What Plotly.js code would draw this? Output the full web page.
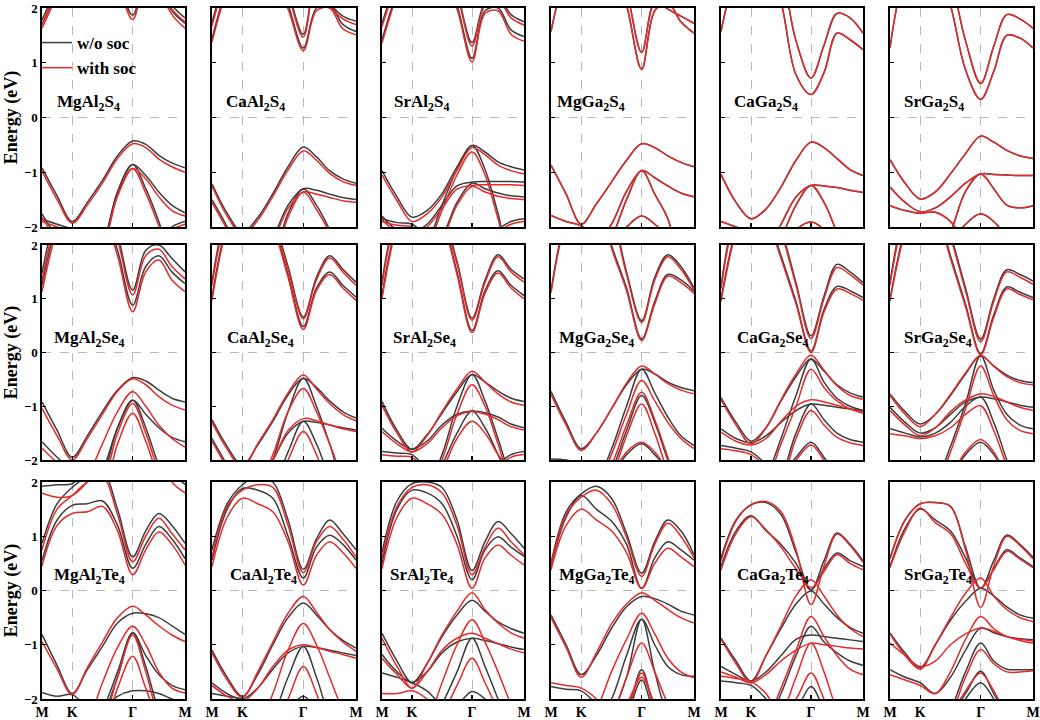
<!DOCTYPE html>
<html><head><meta charset="utf-8">
<script src="https://cdn.plot.ly/plotly-3.0.1.min.js"></script>
<style>html,body{margin:0;padding:0;background:#fff}#chart{width:1040px;height:720px}</style>
</head><body><div id="chart"></div>
<script>
// k-path sample positions along M-K-Γ-M (hexagonal path lengths)
const kPath = [0, 0.1667, 0.3333, 0.5, 0.6667, 0.8333, 1.0, 1.1443, 1.2887, 1.4330, 1.5774];
const kTickVals = [0, 0.3333, 1.0, 1.5774];
const kTickText = ['M', 'K', 'Γ', 'M'];
const energyTicks = [-2, -1, 0, 1, 2];
const fermiLevel = 0;

const compoundLabels = [
  'MgAl<sub>2</sub>S<sub>4</sub>', 'CaAl<sub>2</sub>S<sub>4</sub>', 'SrAl<sub>2</sub>S<sub>4</sub>',
  'MgGa<sub>2</sub>S<sub>4</sub>', 'CaGa<sub>2</sub>S<sub>4</sub>', 'SrGa<sub>2</sub>S<sub>4</sub>',
  'MgAl<sub>2</sub>Se<sub>4</sub>', 'CaAl<sub>2</sub>Se<sub>4</sub>', 'SrAl<sub>2</sub>Se<sub>4</sub>',
  'MgGa<sub>2</sub>Se<sub>4</sub>', 'CaGa<sub>2</sub>Se<sub>4</sub>', 'SrGa<sub>2</sub>Se<sub>4</sub>',
  'MgAl<sub>2</sub>Te<sub>4</sub>', 'CaAl<sub>2</sub>Te<sub>4</sub>', 'SrAl<sub>2</sub>Te<sub>4</sub>',
  'MgGa<sub>2</sub>Te<sub>4</sub>', 'CaGa<sub>2</sub>Te<sub>4</sub>', 'SrGa<sub>2</sub>Te<sub>4</sub>'
];

// ---------- band energies (eV) at kPath ----------
const MgAl2S4_nosoc = [
  [1.78, 2.4, 3.0, 3.0, 2.9, 2.5, 1.87, 2.5, 2.5, 2.05, 1.82],
  [1.7, 2.3, 3.0, 3.0, 3.0, 2.8, 2.6, 2.8, 2.4, 1.95, 1.72],
  [-0.92, -1.43, -1.9, -1.55, -1.15, -0.7, -0.43, -0.49, -0.69, -0.83, -0.92],
  [-1.76, -2.2, -2.6, -2.6, -2.3, -1.36, -0.86, -1.06, -1.36, -1.6, -1.74],
  [-2.6, -2.6, -2.6, -2.6, -2.3, -1.36, -0.86, -1.3, -1.9, -2.6, -2.6],
  [-1.86, -1.95, -2.05, -2.3, -2.6, -2.6, -2.6, -2.6, -2.3, -2.0, -1.9]
];
const MgAl2S4_soc = [
  [1.7, 2.35, 3.0, 3.0, 2.9, 2.45, 1.79, 2.45, 2.45, 1.98, 1.75],
  [1.63, 2.25, 3.0, 3.0, 3.0, 2.8, 2.6, 2.8, 2.35, 1.88, 1.63],
  [-0.98, -1.5, -1.93, -1.6, -1.2, -0.75, -0.48, -0.55, -0.76, -0.9, -1.0],
  [-1.82, -2.25, -2.6, -2.6, -2.35, -1.43, -0.93, -1.12, -1.45, -1.7, -1.8],
  [-2.6, -2.6, -2.6, -2.6, -2.35, -1.43, -0.93, -1.38, -1.98, -2.6, -2.6],
  [-1.9, -2.0, -2.1, -2.35, -2.6, -2.6, -2.6, -2.6, -2.35, -2.05, -1.95]
];
const CaAl2S4_nosoc = [
  [1.73, 2.6, 3.0, 3.0, 3.0, 2.3, 1.52, 2.6, 2.1, 1.85, 1.76],
  [1.44, 2.4, 3.0, 3.0, 2.6, 2.05, 1.27, 2.0, 2.05, 1.7, 1.57],
  [-1.21, -1.75, -2.1, -1.83, -1.39, -0.9, -0.54, -0.72, -0.97, -1.12, -1.2],
  [-1.5, -2.0, -2.6, -2.6, -2.2, -1.6, -1.3, -1.33, -1.4, -1.46, -1.5],
  [-2.6, -2.6, -2.6, -2.6, -2.5, -1.75, -1.3, -1.6, -2.05, -2.6, -2.6]
];
const CaAl2S4_soc = [
  [1.67, 2.55, 3.0, 3.0, 3.0, 2.25, 1.47, 2.55, 2.05, 1.8, 1.7],
  [1.38, 2.35, 3.0, 3.0, 2.55, 1.98, 1.22, 1.95, 2.0, 1.62, 1.51],
  [-1.25, -1.8, -2.15, -1.88, -1.44, -0.96, -0.61, -0.78, -1.02, -1.17, -1.24],
  [-1.55, -2.05, -2.6, -2.6, -2.25, -1.66, -1.36, -1.4, -1.46, -1.52, -1.55],
  [-2.6, -2.6, -2.6, -2.6, -2.55, -1.82, -1.36, -1.68, -2.1, -2.6, -2.6]
];
const SrAl2S4_nosoc = [
  [1.72, 2.5, 3.0, 3.0, 3.0, 2.3, 1.37, 2.1, 2.2, 1.88, 1.75],
  [1.42, 2.3, 3.0, 3.0, 2.7, 2.05, 1.08, 1.95, 2.0, 1.6, 1.48],
  [-0.97, -1.45, -1.82, -1.7, -1.39, -0.9, -0.51, -0.63, -0.81, -0.9, -0.96],
  [-2.6, -2.6, -2.6, -2.3, -1.6, -0.95, -0.51, -0.95, -1.75, -2.6, -2.6],
  [-1.8, -2.05, -2.1, -1.95, -1.6, -1.25, -1.18, -1.17, -1.17, -1.17, -1.18],
  [-2.6, -2.6, -2.6, -2.6, -2.2, -1.55, -1.2, -1.3, -1.38, -1.43, -1.45],
  [-1.85, -1.92, -1.95, -2.2, -2.6, -2.6, -2.6, -2.4, -2.05, -1.9, -1.85]
];
const SrAl2S4_soc = [
  [1.66, 2.45, 3.0, 3.0, 2.9, 2.25, 1.31, 2.05, 2.15, 1.82, 1.69],
  [1.36, 2.25, 3.0, 3.0, 2.6, 1.98, 1.02, 1.9, 1.95, 1.52, 1.39],
  [-1.05, -1.52, -1.9, -1.76, -1.45, -0.96, -0.55, -0.68, -0.87, -0.97, -1.03],
  [-2.6, -2.6, -2.6, -2.35, -1.7, -1.05, -0.63, -1.05, -1.85, -2.6, -2.6],
  [-1.86, -2.1, -2.15, -2.0, -1.66, -1.31, -1.24, -1.23, -1.23, -1.23, -1.24],
  [-2.6, -2.6, -2.6, -2.6, -2.25, -1.6, -1.26, -1.36, -1.44, -1.48, -1.5],
  [-1.9, -1.97, -2.0, -2.25, -2.6, -2.6, -2.6, -2.45, -2.1, -1.95, -1.9]
];
const MgGa2S4_soc = [
  [1.57, 2.6, 3.0, 3.0, 2.8, 2.05, 0.88, 1.95, 2.1, 1.75, 1.54],
  [2.6, 3.0, 3.0, 3.0, 3.0, 2.3, 1.19, 2.1, 1.98, 1.85, 1.72],
  [-0.87, -1.4, -1.95, -1.58, -1.18, -0.78, -0.48, -0.55, -0.7, -0.82, -0.9],
  [-2.6, -2.6, -2.6, -2.3, -1.95, -1.35, -0.97, -1.1, -1.25, -1.38, -1.45],
  [-2.6, -2.6, -2.6, -2.6, -2.2, -1.5, -0.97, -1.4, -1.85, -2.6, -2.6],
  [-2.6, -2.6, -2.6, -2.6, -2.3, -2.0, -1.8, -1.95, -2.2, -2.6, -2.6],
  [-1.79, -1.9, -1.98, -2.2, -2.6, -2.6, -2.6, -2.6, -2.6, -2.6, -2.6]
];
const MgGa2S4_nosoc = MgGa2S4_soc;
const CaGa2S4_soc = [
  [1.57, 2.6, 3.0, 2.8, 2.1, 0.78, 0.42, 0.82, 1.54, 1.42, 1.24],
  [2.5, 3.0, 3.0, 3.0, 2.6, 1.4, 0.72, 1.32, 1.9, 1.82, 1.54],
  [-1.04, -1.55, -1.85, -1.67, -1.27, -0.78, -0.45, -0.55, -0.75, -0.95, -1.06],
  [-2.6, -2.6, -2.6, -2.4, -1.95, -1.45, -1.24, -1.25, -1.28, -1.33, -1.37],
  [-2.6, -2.6, -2.6, -2.6, -2.2, -1.6, -1.24, -1.55, -2.1, -2.6, -2.6],
  [-2.6, -2.6, -2.6, -2.6, -2.4, -2.05, -1.91, -2.05, -2.4, -2.6, -2.6],
  [-1.9, -2.0, -2.1, -2.3, -2.6, -2.6, -2.6, -2.6, -2.6, -2.6, -2.6]
];
const CaGa2S4_nosoc = CaGa2S4_soc;
const SrGa2S4_soc = [
  [1.27, 2.6, 3.0, 2.8, 2.05, 0.87, 0.33, 0.84, 1.5, 1.45, 1.27],
  [2.5, 3.0, 3.0, 3.0, 2.5, 1.4, 0.62, 1.3, 1.88, 1.8, 1.63],
  [-0.77, -1.2, -1.49, -1.36, -1.03, -0.66, -0.34, -0.45, -0.6, -0.7, -0.75],
  [-1.27, -1.55, -1.72, -1.65, -1.45, -1.2, -1.03, -1.04, -1.05, -1.06, -1.06],
  [-2.6, -2.6, -2.6, -2.6, -2.1, -1.35, -1.03, -1.3, -1.6, -1.65, -1.61],
  [-1.61, -1.7, -1.75, -1.73, -1.9, -2.3, -2.6, -2.6, -2.6, -2.6, -2.6],
  [-2.6, -2.6, -2.6, -2.6, -2.3, -1.95, -1.76, -1.9, -2.2, -2.6, -2.6]
];
const SrGa2S4_nosoc = SrGa2S4_soc;

const MgAl2Se4_nosoc = [
  [1.47, 2.6, 3.0, 3.0, 3.0, 2.2, 1.16, 1.9, 2.0, 1.75, 1.5],
  [1.25, 2.4, 3.0, 3.0, 2.7, 1.9, 0.88, 1.6, 1.8, 1.5, 1.28],
  [-0.92, -1.45, -1.95, -1.55, -1.1, -0.7, -0.47, -0.53, -0.7, -0.85, -0.92],
  [-2.6, -2.6, -2.6, -2.6, -2.2, -1.4, -0.89, -1.15, -1.4, -1.58, -1.66],
  [-2.6, -2.6, -2.6, -2.6, -2.3, -1.4, -0.89, -1.4, -2.1, -2.6, -2.6],
  [-1.66, -1.95, -2.2, -2.6, -2.6, -2.6, -2.6, -2.6, -2.6, -2.6, -2.6]
];
const MgAl2Se4_soc = [
  [1.34, 2.5, 3.0, 3.0, 2.9, 2.1, 1.07, 1.8, 1.92, 1.6, 1.37],
  [1.13, 2.3, 3.0, 2.9, 2.6, 1.8, 0.76, 1.5, 1.72, 1.35, 1.13],
  [-1.04, -1.55, -2.0, -1.6, -1.15, -0.72, -0.49, -0.6, -0.82, -0.98, -1.07],
  [-2.6, -2.6, -2.6, -2.3, -1.7, -1.1, -0.73, -1.0, -1.35, -1.6, -1.76],
  [-2.6, -2.6, -2.6, -2.6, -2.4, -1.5, -0.95, -1.5, -2.2, -2.6, -2.6],
  [-2.6, -2.6, -2.6, -2.6, -2.6, -1.7, -1.13, -1.65, -2.3, -2.6, -2.6],
  [-1.78, -2.05, -2.3, -2.6, -2.6, -2.6, -2.6, -2.6, -2.6, -2.6, -2.6]
];
const CaAl2Se4_nosoc = [
  [1.31, 2.6, 3.0, 3.0, 2.5, 1.6, 0.66, 1.4, 1.8, 1.55, 1.31],
  [1.03, 2.4, 3.0, 3.0, 2.4, 1.45, 0.48, 1.2, 1.5, 1.25, 1.03],
  [-1.25, -1.75, -2.1, -1.72, -1.28, -0.79, -0.48, -0.65, -0.9, -1.1, -1.22],
  [-1.6, -2.1, -2.6, -2.4, -2.0, -1.5, -1.28, -1.3, -1.35, -1.4, -1.44],
  [-2.6, -2.6, -2.6, -2.6, -2.5, -1.85, -1.28, -1.7, -2.3, -2.6, -2.6],
  [-2.6, -2.6, -2.6, -2.6, -2.0, -1.1, -0.48, -1.0, -1.7, -2.4, -2.6]
];
const CaAl2Se4_soc = [
  [1.25, 2.55, 3.0, 3.0, 2.45, 1.55, 0.63, 1.35, 1.76, 1.5, 1.25],
  [0.97, 2.35, 3.0, 2.9, 2.35, 1.4, 0.43, 1.15, 1.45, 1.2, 0.97],
  [-1.3, -1.8, -2.15, -1.7, -1.25, -0.75, -0.42, -0.68, -0.95, -1.15, -1.27],
  [-1.65, -2.15, -2.6, -2.4, -2.0, -1.45, -1.23, -1.27, -1.35, -1.42, -1.47],
  [-2.6, -2.6, -2.6, -2.6, -2.6, -2.0, -1.47, -1.9, -2.5, -2.6, -2.6],
  [-2.6, -2.6, -2.6, -2.5, -1.9, -1.1, -0.67, -1.1, -1.7, -2.3, -2.6]
];
const SrAl2Se4_nosoc = [
  [1.31, 2.6, 3.0, 3.0, 2.6, 1.7, 0.64, 1.35, 1.82, 1.55, 1.37],
  [1.06, 2.4, 3.0, 3.0, 2.5, 1.5, 0.41, 1.15, 1.52, 1.25, 1.06],
  [-0.91, -1.45, -1.8, -1.53, -1.13, -0.73, -0.41, -0.55, -0.72, -0.85, -0.91],
  [-2.6, -2.6, -2.6, -2.5, -1.9, -1.0, -0.41, -0.9, -1.6, -2.3, -2.6],
  [-1.41, -1.65, -1.8, -1.65, -1.35, -1.15, -1.09, -1.12, -1.2, -1.33, -1.4],
  [-2.6, -2.6, -2.6, -2.6, -2.1, -1.5, -1.09, -1.4, -1.9, -2.4, -2.6],
  [-1.84, -1.87, -1.9, -2.2, -2.6, -2.6, -2.6, -2.5, -2.1, -1.9, -1.84]
];
const SrAl2Se4_soc = [
  [1.25, 2.55, 3.0, 3.0, 2.55, 1.65, 0.6, 1.3, 1.78, 1.5, 1.31],
  [1.0, 2.35, 3.0, 2.9, 2.45, 1.45, 0.37, 1.1, 1.48, 1.2, 1.0],
  [-0.98, -1.5, -1.85, -1.55, -1.1, -0.68, -0.35, -0.55, -0.77, -0.92, -0.98],
  [-2.6, -2.6, -2.6, -2.6, -2.0, -1.15, -0.6, -1.0, -1.7, -2.4, -2.6],
  [-1.47, -1.7, -1.85, -1.7, -1.4, -1.18, -1.1, -1.15, -1.25, -1.38, -1.44],
  [-2.6, -2.6, -2.6, -2.6, -2.2, -1.6, -1.28, -1.5, -1.9, -2.2, -2.6],
  [-1.9, -1.93, -1.95, -2.25, -2.6, -2.6, -2.6, -2.55, -2.15, -1.95, -1.9]
];
const MgGa2Se4_nosoc = [
  [1.14, 2.5, 3.0, 3.0, 2.0, 1.2, 0.25, 0.95, 1.45, 1.35, 1.14],
  [2.6, 3.0, 3.0, 3.0, 2.6, 1.5, 0.59, 1.4, 1.82, 1.6, 1.2],
  [-0.72, -1.3, -1.79, -1.5, -1.05, -0.6, -0.31, -0.4, -0.55, -0.65, -0.71],
  [-2.6, -2.6, -2.6, -2.4, -1.8, -1.0, -0.31, -0.75, -1.2, -1.55, -1.73],
  [-2.6, -2.6, -2.6, -2.6, -2.2, -1.45, -0.8, -1.3, -2.0, -2.6, -2.6],
  [-2.6, -2.6, -2.6, -2.6, -2.3, -1.9, -1.7, -1.9, -2.2, -2.6, -2.6],
  [-1.98, -2.0, -2.1, -2.4, -2.6, -2.6, -2.6, -2.6, -2.6, -2.6, -2.6]
];
const MgGa2Se4_soc = [
  [1.11, 2.45, 3.0, 3.0, 1.95, 1.15, 0.22, 0.9, 1.42, 1.3, 1.1],
  [2.6, 3.0, 3.0, 3.0, 2.55, 1.45, 0.56, 1.35, 1.78, 1.55, 1.16],
  [-0.78, -1.35, -1.82, -1.5, -1.05, -0.57, -0.25, -0.4, -0.58, -0.7, -0.77],
  [-2.6, -2.6, -2.6, -2.5, -1.9, -1.15, -0.52, -0.9, -1.3, -1.6, -1.79],
  [-2.6, -2.6, -2.6, -2.6, -2.1, -1.35, -0.74, -1.25, -1.95, -2.6, -2.6],
  [-2.6, -2.6, -2.6, -2.6, -2.3, -1.55, -0.96, -1.5, -2.2, -2.6, -2.6],
  [-2.6, -2.6, -2.6, -2.6, -2.3, -1.85, -1.67, -1.85, -2.2, -2.6, -2.6]
];
const CaGa2Se4_nosoc = [
  [0.99, 2.3, 3.0, 2.6, 1.8, 0.95, 0.03, 0.8, 1.23, 1.15, 1.02],
  [1.23, 2.6, 3.0, 3.0, 2.3, 1.3, 0.31, 1.05, 1.64, 1.5, 1.3],
  [-0.84, -1.3, -1.65, -1.4, -0.9, -0.45, -0.12, -0.35, -0.6, -0.75, -0.83],
  [-2.6, -2.6, -2.6, -2.3, -1.6, -0.8, -0.12, -0.55, -0.85, -1.0, -1.08],
  [-1.42, -1.6, -1.68, -1.55, -1.3, -1.08, -0.96, -0.98, -1.02, -1.05, -1.08],
  [-2.6, -2.6, -2.6, -2.6, -2.3, -1.5, -0.96, -1.25, -1.5, -1.62, -1.67],
  [-1.73, -1.78, -1.85, -2.1, -2.6, -2.6, -2.6, -2.6, -2.6, -2.6, -2.6],
  [-2.6, -2.6, -2.6, -2.6, -2.3, -1.95, -1.67, -1.95, -2.3, -2.6, -2.6]
];
const CaGa2Se4_soc = [
  [0.95, 2.25, 3.0, 2.55, 1.75, 0.9, 0.0, 0.75, 1.18, 1.1, 0.97],
  [1.18, 2.55, 3.0, 3.0, 2.25, 1.25, 0.26, 1.0, 1.58, 1.45, 1.25],
  [-0.88, -1.35, -1.7, -1.4, -0.88, -0.4, -0.05, -0.33, -0.62, -0.8, -0.87],
  [-2.6, -2.6, -2.6, -2.4, -1.7, -1.0, -0.31, -0.65, -0.9, -1.05, -1.13],
  [-1.48, -1.65, -1.72, -1.6, -1.28, -1.0, -0.88, -0.92, -0.98, -1.05, -1.1],
  [-2.6, -2.6, -2.6, -2.6, -2.4, -1.6, -1.08, -1.35, -1.58, -1.68, -1.73],
  [-1.79, -1.83, -1.9, -2.15, -2.6, -2.6, -2.6, -2.6, -2.6, -2.6, -2.6],
  [-2.6, -2.6, -2.6, -2.6, -2.3, -2.0, -1.72, -2.0, -2.3, -2.6, -2.6]
];
const SrGa2Se4_nosoc = [
  [0.99, 2.3, 3.0, 2.7, 1.8, 0.9, -0.02, 0.7, 1.22, 1.12, 1.02],
  [1.3, 2.6, 3.0, 3.0, 2.2, 1.2, 0.25, 1.0, 1.54, 1.45, 1.33],
  [-0.77, -1.1, -1.33, -1.15, -0.8, -0.4, -0.06, -0.25, -0.42, -0.52, -0.56],
  [-2.6, -2.6, -2.6, -2.4, -1.75, -0.95, -0.06, -0.7, -1.15, -1.35, -1.42],
  [-1.02, -1.3, -1.5, -1.4, -1.15, -0.92, -0.83, -0.86, -0.92, -0.98, -1.02],
  [-1.42, -1.5, -1.57, -1.5, -1.3, -1.0, -0.83, -1.3, -2.0, -2.6, -2.6],
  [-2.6, -2.6, -2.6, -2.6, -2.3, -1.9, -1.67, -1.9, -2.3, -2.6, -2.6]
];
const SrGa2Se4_soc = [
  [0.96, 2.25, 3.0, 2.65, 1.75, 0.85, -0.04, 0.65, 1.18, 1.08, 0.98],
  [1.25, 2.55, 3.0, 3.0, 2.15, 1.15, 0.2, 0.95, 1.5, 1.4, 1.27],
  [-0.8, -1.15, -1.38, -1.15, -0.78, -0.38, -0.05, -0.26, -0.45, -0.56, -0.6],
  [-2.6, -2.6, -2.6, -2.5, -1.85, -1.05, -0.25, -0.8, -1.25, -1.45, -1.51],
  [-1.08, -1.35, -1.55, -1.4, -1.1, -0.88, -0.77, -0.82, -0.92, -1.02, -1.08],
  [-1.51, -1.55, -1.6, -1.55, -1.4, -1.15, -0.99, -1.45, -2.1, -2.6, -2.6],
  [-2.6, -2.6, -2.6, -2.6, -2.3, -1.85, -1.62, -1.85, -2.3, -2.6, -2.6]
];

const MgAl2Te4_nosoc = [
  [0.55, 1.3, 1.57, 1.6, 1.65, 1.2, 0.41, 0.85, 1.18, 0.95, 0.59],
  [0.87, 1.6, 1.9, 2.1, 2.2, 1.5, 0.62, 1.1, 1.42, 1.2, 0.87],
  [1.92, 1.95, 1.97, 2.3, 2.6, 3.0, 3.0, 3.0, 2.6, 2.2, 1.95],
  [-0.81, -1.38, -1.9, -1.46, -1.03, -0.6, -0.42, -0.43, -0.5, -0.65, -0.81],
  [-2.6, -2.6, -2.6, -2.6, -2.3, -1.6, -0.78, -1.2, -1.55, -1.75, -1.83],
  [-2.6, -2.6, -2.6, -2.6, -2.2, -1.5, -0.78, -1.4, -2.2, -2.6, -2.6],
  [-2.6, -2.6, -2.6, -2.6, -2.2, -1.95, -1.85, -1.85, -1.9, -2.0, -2.1],
  [-1.88, -1.95, -1.92, -2.2, -2.6, -2.6, -2.6, -2.6, -2.6, -2.6, -2.6]
];
const MgAl2Te4_soc = [
  [0.45, 1.2, 1.42, 1.45, 1.55, 1.1, 0.29, 0.75, 1.08, 0.85, 0.47],
  [0.75, 1.5, 1.75, 2.0, 2.1, 1.4, 0.53, 1.0, 1.33, 1.05, 0.75],
  [1.8, 1.72, 1.75, 2.0, 2.4, 3.0, 3.0, 3.0, 2.5, 2.0, 1.8],
  [-0.94, -1.45, -1.92, -1.42, -0.95, -0.5, -0.29, -0.45, -0.65, -0.82, -0.94],
  [-2.6, -2.6, -2.6, -2.4, -1.7, -1.05, -0.66, -1.0, -1.5, -1.8, -1.89],
  [-2.6, -2.6, -2.6, -2.6, -2.4, -1.6, -0.82, -1.5, -2.3, -2.6, -2.6],
  [-2.6, -2.6, -2.6, -2.6, -2.6, -1.8, -1.21, -1.8, -2.4, -2.6, -2.6]
];
const CaAl2Te4_nosoc = [
  [0.56, 1.5, 1.88, 1.85, 1.7, 1.0, 0.23, 0.8, 1.02, 0.85, 0.56],
  [0.75, 1.6, 1.95, 2.1, 2.0, 1.3, 0.39, 0.95, 1.3, 1.05, 0.75],
  [-1.1, -1.6, -1.95, -1.55, -1.0, -0.5, -0.23, -0.45, -0.72, -0.92, -1.06],
  [-1.7, -1.9, -2.0, -1.8, -1.45, -1.15, -1.03, -1.05, -1.1, -1.15, -1.2],
  [-2.6, -2.6, -2.6, -2.6, -2.3, -1.6, -1.03, -1.6, -2.3, -2.6, -2.6],
  [-1.9, -1.95, -2.0, -2.2, -2.4, -2.2, -1.95, -2.2, -2.6, -2.6, -2.6]
];
const CaAl2Te4_soc = [
  [0.44, 1.35, 1.7, 1.6, 1.45, 0.9, 0.1, 0.65, 0.9, 0.7, 0.41],
  [0.62, 1.55, 1.85, 1.95, 1.9, 1.2, 0.33, 0.9, 1.18, 0.95, 0.62],
  [-1.15, -1.65, -1.97, -1.5, -0.95, -0.42, -0.11, -0.4, -0.72, -0.95, -1.12],
  [-1.75, -1.95, -2.05, -1.8, -1.4, -1.1, -1.0, -1.05, -1.12, -1.18, -1.25],
  [-2.6, -2.6, -2.6, -2.5, -1.9, -1.1, -0.61, -1.0, -1.6, -2.2, -2.6],
  [-2.6, -2.6, -2.6, -2.6, -2.6, -2.0, -1.4, -1.9, -2.6, -2.6, -2.6]
];
const SrAl2Te4_nosoc = [
  [0.5, 1.5, 1.85, 1.8, 1.6, 1.0, 0.2, 0.75, 0.99, 0.8, 0.63],
  [0.7, 1.65, 1.97, 2.0, 1.9, 1.3, 0.37, 0.9, 1.27, 1.05, 0.78],
  [-0.79, -1.3, -1.7, -1.35, -0.85, -0.45, -0.18, -0.38, -0.58, -0.7, -0.79],
  [-1.18, -1.5, -1.7, -1.5, -1.15, -0.95, -0.88, -0.92, -0.98, -1.04, -1.09],
  [-2.6, -2.6, -2.6, -2.6, -2.1, -1.5, -0.88, -1.4, -2.0, -2.6, -2.6],
  [-1.52, -1.6, -1.7, -1.85, -2.1, -2.1, -1.86, -2.0, -2.3, -2.6, -2.6]
];
const SrAl2Te4_soc = [
  [0.4, 1.35, 1.7, 1.6, 1.4, 0.85, 0.04, 0.6, 0.84, 0.65, 0.47],
  [0.6, 1.55, 1.9, 1.95, 1.8, 1.2, 0.29, 0.8, 1.15, 0.9, 0.66],
  [-0.88, -1.4, -1.8, -1.35, -0.82, -0.38, -0.04, -0.35, -0.6, -0.78, -0.88],
  [-1.25, -1.55, -1.8, -1.5, -1.1, -0.88, -0.79, -0.88, -0.98, -1.08, -1.15],
  [-2.6, -2.6, -2.6, -2.4, -1.7, -1.0, -0.54, -0.95, -1.5, -2.1, -2.6],
  [-2.6, -2.6, -2.6, -2.6, -2.3, -1.75, -1.25, -1.7, -2.2, -2.6, -2.6],
  [-1.9, -1.9, -1.85, -2.0, -2.3, -2.6, -2.6, -2.6, -2.6, -2.6, -2.6]
];
const MgGa2Te4_nosoc = [
  [0.44, 1.35, 1.75, 1.5, 1.28, 0.85, 0.04, 0.6, 0.9, 0.75, 0.56],
  [0.5, 1.45, 1.78, 1.92, 1.7, 1.05, 0.32, 0.9, 1.3, 1.1, 0.66],
  [-0.45, -1.0, -1.55, -1.2, -0.7, -0.3, -0.11, -0.15, -0.25, -0.38, -0.45],
  [-2.6, -2.6, -2.6, -2.4, -2.0, -1.2, -0.53, -1.0, -1.4, -1.55, -1.58],
  [-2.6, -2.6, -2.6, -2.6, -2.3, -1.6, -0.53, -1.5, -2.3, -2.6, -2.6],
  [-1.77, -1.82, -1.85, -2.1, -2.4, -2.2, -1.46, -2.2, -2.6, -2.6, -2.6],
  [-2.6, -2.6, -2.6, -2.6, -2.6, -2.3, -1.65, -2.3, -2.6, -2.6, -2.6]
];
const MgGa2Te4_soc = [
  [0.38, 1.2, 1.5, 1.3, 1.1, 0.7, 0.04, 0.5, 0.78, 0.62, 0.44],
  [0.45, 1.4, 1.72, 1.85, 1.6, 0.98, 0.26, 0.85, 1.24, 1.0, 0.6],
  [-0.5, -1.05, -1.6, -1.15, -0.62, -0.25, -0.04, -0.18, -0.35, -0.5, -0.6],
  [-2.6, -2.6, -2.6, -2.2, -1.5, -0.9, -0.42, -0.8, -1.25, -1.5, -1.61],
  [-2.6, -2.6, -2.6, -2.6, -2.3, -1.6, -0.97, -1.5, -2.1, -2.6, -2.6],
  [-1.7, -1.75, -1.8, -2.0, -2.4, -2.2, -1.52, -2.2, -2.6, -2.6, -2.6],
  [-2.6, -2.6, -2.6, -2.6, -2.5, -2.1, -1.6, -2.1, -2.6, -2.6, -2.6]
];
const CaGa2Te4_nosoc = [
  [0.6, 1.3, 1.58, 1.62, 1.4, 0.7, 0.01, 0.55, 1.06, 0.85, 0.55],
  [0.44, 1.1, 1.38, 1.1, 0.85, 0.5, 0.01, 0.4, 0.69, 0.55, 0.44],
  [-0.88, -1.3, -1.67, -1.2, -0.7, -0.25, -0.01, -0.25, -0.5, -0.68, -0.79],
  [-2.6, -2.6, -2.6, -2.5, -1.9, -1.2, -0.66, -0.95, -1.15, -1.3, -1.38],
  [-1.4, -1.55, -1.67, -1.5, -1.2, -0.9, -0.82, -0.85, -0.88, -0.91, -0.94],
  [-1.67, -1.7, -1.75, -2.0, -2.4, -2.2, -1.77, -2.2, -2.6, -2.6, -2.6]
];
const CaGa2Te4_soc = [
  [0.55, 1.28, 1.58, 1.64, 1.45, 0.75, -0.26, 0.45, 1.04, 0.83, 0.52],
  [0.38, 1.05, 1.36, 1.12, 0.8, 0.4, 0.05, 0.35, 0.66, 0.5, 0.38],
  [-0.9, -1.35, -1.7, -1.2, -0.65, -0.1, 0.2, -0.1, -0.45, -0.7, -0.85],
  [-2.6, -2.6, -2.6, -2.4, -1.8, -1.1, -0.48, -0.85, -1.2, -1.45, -1.55],
  [-1.5, -1.6, -1.7, -1.55, -1.3, -1.1, -0.97, -1.0, -1.03, -1.06, -1.08],
  [-1.58, -1.62, -1.68, -1.9, -2.3, -2.0, -1.52, -2.0, -2.5, -2.6, -2.6],
  [-2.6, -2.6, -2.6, -2.6, -2.3, -1.6, -0.97, -1.5, -2.2, -2.6, -2.6]
];
const SrGa2Te4_nosoc = [
  [0.6, 1.3, 1.6, 1.62, 1.55, 0.8, 0.04, 0.55, 1.02, 0.85, 0.61],
  [0.44, 1.15, 1.5, 1.3, 1.1, 0.6, 0.04, 0.4, 0.75, 0.6, 0.44],
  [-0.78, -1.15, -1.42, -1.0, -0.55, -0.2, 0.04, -0.1, -0.3, -0.45, -0.51],
  [-1.46, -1.6, -1.7, -1.9, -1.6, -1.1, -0.69, -0.78, -0.85, -0.89, -0.91],
  [-2.6, -2.6, -2.6, -2.6, -2.2, -1.5, -0.97, -1.3, -1.45, -1.46, -1.46],
  [-2.6, -2.6, -2.6, -2.6, -2.3, -1.9, -1.49, -1.9, -2.3, -2.6, -2.6],
  [-2.6, -2.6, -2.6, -2.6, -2.5, -2.0, -1.7, -2.0, -2.5, -2.6, -2.6]
];
const SrGa2Te4_soc = [
  [0.58, 1.3, 1.6, 1.62, 1.55, 0.75, -0.31, 0.45, 1.0, 0.83, 0.58],
  [0.42, 1.1, 1.52, 1.25, 1.05, 0.5, 0.05, 0.38, 0.72, 0.58, 0.42],
  [-0.8, -1.2, -1.45, -1.0, -0.5, -0.05, 0.23, -0.1, -0.35, -0.5, -0.57],
  [-1.55, -1.65, -1.75, -1.9, -1.5, -0.9, -0.48, -0.7, -0.85, -0.92, -0.97],
  [-0.97, -1.2, -1.4, -1.3, -1.0, -0.8, -0.69, -0.75, -0.85, -0.9, -0.93],
  [-2.6, -2.6, -2.6, -2.6, -2.3, -1.6, -1.09, -1.35, -1.5, -1.5, -1.48],
  [-2.6, -2.6, -2.6, -2.6, -2.3, -1.85, -1.52, -1.85, -2.3, -2.6, -2.6]
];

const bandsNoSoc = [
  MgAl2S4_nosoc, CaAl2S4_nosoc, SrAl2S4_nosoc, MgGa2S4_nosoc, CaGa2S4_nosoc, SrGa2S4_nosoc,
  MgAl2Se4_nosoc, CaAl2Se4_nosoc, SrAl2Se4_nosoc, MgGa2Se4_nosoc, CaGa2Se4_nosoc, SrGa2Se4_nosoc,
  MgAl2Te4_nosoc, CaAl2Te4_nosoc, SrAl2Te4_nosoc, MgGa2Te4_nosoc, CaGa2Te4_nosoc, SrGa2Te4_nosoc
];
const bandsSoc = [
  MgAl2S4_soc, CaAl2S4_soc, SrAl2S4_soc, MgGa2S4_soc, CaGa2S4_soc, SrGa2S4_soc,
  MgAl2Se4_soc, CaAl2Se4_soc, SrAl2Se4_soc, MgGa2Se4_soc, CaGa2Se4_soc, SrGa2Se4_soc,
  MgAl2Te4_soc, CaAl2Te4_soc, SrAl2Te4_soc, MgGa2Te4_soc, CaGa2Te4_soc, SrGa2Te4_soc
];

// ---------- layout geometry (pixels) ----------
const W = 1040, H = 720;
const colLeft = [42, 212, 382, 551, 721, 890];
const colRight = [185, 356, 524, 694, 863, 1033];
const rowTop = [8, 245, 482];
const rowBottom = [227, 460, 699];
const labelX = [0.09, 0.08, 0.07, 0.03, 0.08, 0.085, 0.07, 0.09, 0.06, 0.04, 0.1, 0.085, 0.07, 0.11, 0.04, 0.04, 0.1, 0.085];

const serif = 'Liberation Serif, Times New Roman, serif';
const grayCol = '#3d3d3d';
const redCol = '#e32b2b';

const data = [];
const layout = {
  width: W, height: H,
  margin: {l: 0, r: 0, t: 0, b: 0},
  paper_bgcolor: '#fff', plot_bgcolor: '#fff',
  showlegend: true,
  legend: {x: 37 / W, y: 1 - 25 / H, xanchor: 'left', yanchor: 'top', bgcolor: 'rgba(0,0,0,0)',
           font: {family: serif, size: 17, color: '#000', weight: 'bold'}, tracegroupgap: 0, itemwidth: 30},
  shapes: [], annotations: []
};

for (let i = 0; i < 18; i++) {
  const r = Math.floor(i / 6), c = i % 6;
  const n = i + 1;
  const xa = 'x' + (n > 1 ? n : ''), ya = 'y' + (n > 1 ? n : '');
  const xk = 'xaxis' + (n > 1 ? n : ''), yk = 'yaxis' + (n > 1 ? n : '');
  bandsNoSoc[i].forEach((b, j) => data.push({
    type: 'scatter', mode: 'lines', x: kPath, y: b, xaxis: xa, yaxis: ya,
    line: {color: grayCol, width: 1.5, shape: 'spline', smoothing: 1},
    name: 'w/o soc', showlegend: i === 0 && j === 0, legendgroup: 'g', hoverinfo: 'skip'
  }));
  bandsSoc[i].forEach((b, j) => data.push({
    type: 'scatter', mode: 'lines', x: kPath, y: b, xaxis: xa, yaxis: ya,
    line: {color: redCol, width: 1.5, shape: 'spline', smoothing: 1},
    name: 'with soc', showlegend: i === 0 && j === 0, legendgroup: 'r', hoverinfo: 'skip'
  }));
  layout[xk] = {
    domain: [colLeft[c] / W, colRight[c] / W], anchor: ya,
    range: [kTickVals[0], kTickVals[3]], tickmode: 'array', tickvals: kTickVals, ticktext: kTickText,
    showticklabels: r === 2, ticks: 'inside', ticklen: 4, tickwidth: 1.2, tickcolor: '#000',
    showline: true, mirror: true, linecolor: '#000', linewidth: 1.6,
    showgrid: true, gridcolor: '#a8a8a8', griddash: 'dash', gridwidth: 0.8, zeroline: false,
    tickfont: {family: serif, size: 14, color: '#000', weight: 'bold'}, fixedrange: true
  };
  const yax = {
    domain: [1 - rowBottom[r] / H, 1 - rowTop[r] / H], anchor: xa,
    range: [energyTicks[0], energyTicks[4]], tickmode: 'array', tickvals: energyTicks,
    showticklabels: c === 0, ticks: 'inside', ticklen: 4, tickwidth: 1.2, tickcolor: '#000',
    showline: true, mirror: true, linecolor: '#000', linewidth: 1.6,
    showgrid: false, zeroline: false,
    tickfont: {family: serif, size: 13, color: '#000', weight: 'bold'}, fixedrange: true
  };
  if (c === 0) yax.title = {text: 'Energy (eV)', font: {family: serif, size: 18, color: '#000', weight: 'bold'}, standoff: 1};
  layout[yk] = yax;
  layout.shapes.push({type: 'line', xref: xa + ' domain', yref: ya, x0: 0, x1: 1, y0: fermiLevel, y1: fermiLevel,
    line: {color: '#a8a8a8', width: 0.8, dash: 'dash'}, layer: 'below'});
  layout.annotations.push({xref: xa + ' domain', yref: ya + ' domain', x: labelX[i], y: 0.565,
    xanchor: 'left', yanchor: 'middle', showarrow: false, text: '<b>' + compoundLabels[i] + '</b>',
    font: {family: serif, size: 17, color: '#000'}});
}

Plotly.newPlot('chart', data, layout, {staticPlot: true, displayModeBar: false});
</script></body></html>
